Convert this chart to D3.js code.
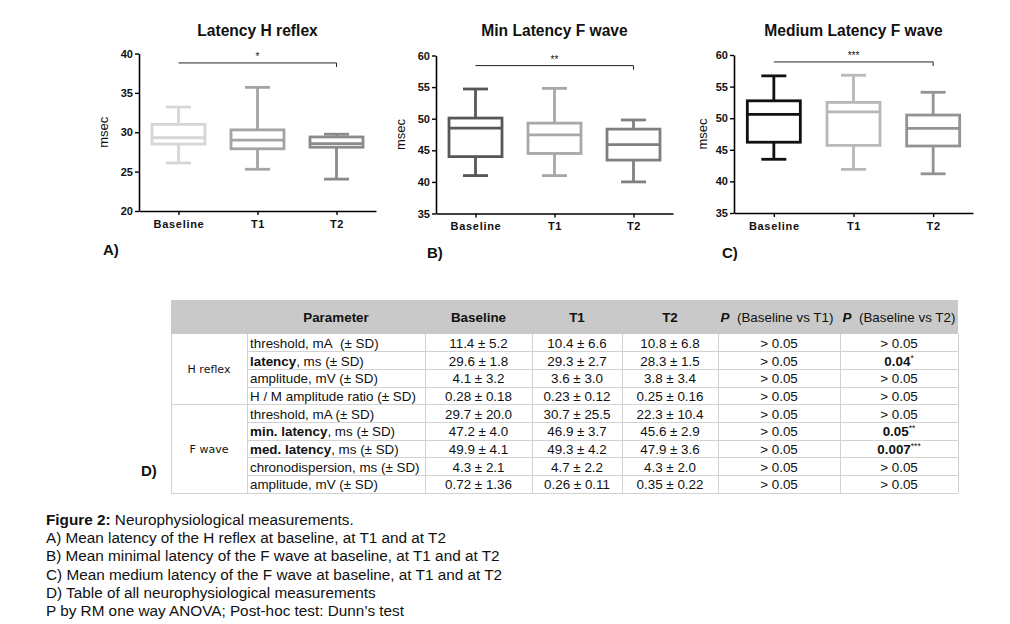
<!DOCTYPE html>
<html>
<head>
<meta charset="utf-8">
<script src="https://cdn.jsdelivr.net/npm/d3@7"></script>
<style>
body { margin: 0; background: #fff; }
text { font-family: "Liberation Sans", Arial, sans-serif; fill: #111; }
</style>
</head>
<body>
<div id="fig"></div>
<script>
// Categories
var groups = ["Baseline", "T1", "T2"];

// Box values per group: [min, q1, median, q3, max]
var hLatency = [[26.1, 28.5, 29.3, 31.0, 33.2], [25.3, 27.9, 29.0, 30.3, 35.7], [24.05, 28.1, 28.55, 29.4, 29.75]];
var fMinLatency = [[41.0, 44.0, 48.5, 50.1, 54.7], [41.0, 44.5, 47.45, 49.3, 54.8], [40.0, 43.45, 45.9, 48.35, 49.8]];
var fMedLatency = [[43.5, 46.2, 50.6, 52.75, 56.7], [41.9, 45.7, 51.0, 52.5, 56.8], [41.2, 45.6, 48.4, 50.5, 54.1]];

// Y tick labels
var hTicks = [20, 25, 30, 35, 40];
var fTicks = [35, 40, 45, 50, 55, 60];

// Table
var tableHeaders = ["Parameter", "Baseline", "T1", "T2", "(Baseline vs T1)", "(Baseline vs T2)"];
var tableGroups = ["H reflex", "F wave"];
var groupRows = [4, 5];
var paramBold = ["", "latency", "", "", "", "min. latency", "med. latency", "", ""];
var paramRest = ["threshold, mA\u00a0 (\u00b1 SD)", ", ms (\u00b1 SD)", "amplitude, mV (\u00b1 SD)", "H / M amplitude ratio (\u00b1 SD)",
  "threshold, mA (\u00b1 SD)", ", ms (\u00b1 SD)", ", ms (\u00b1 SD)", "chronodispersion, ms (\u00b1 SD)", "amplitude, mV (\u00b1 SD)"];
var baselineVals = ["11.4 \u00b1 5.2", "29.6 \u00b1 1.8", "4.1 \u00b1 3.2", "0.28 \u00b1 0.18", "29.7 \u00b1 20.0", "47.2 \u00b1 4.0", "49.9 \u00b1 4.1", "4.3 \u00b1 2.1", "0.72 \u00b1 1.36"];
var t1Vals = ["10.4 \u00b1 6.6", "29.3 \u00b1 2.7", "3.6 \u00b1 3.0", "0.23 \u00b1 0.12", "30.7 \u00b1 25.5", "46.9 \u00b1 3.7", "49.3 \u00b1 4.2", "4.7 \u00b1 2.2", "0.26 \u00b1 0.11"];
var t2Vals = ["10.8 \u00b1 6.8", "28.3 \u00b1 1.5", "3.8 \u00b1 3.4", "0.25 \u00b1 0.16", "22.3 \u00b1 10.4", "45.6 \u00b1 2.9", "47.9 \u00b1 3.6", "4.3 \u00b1 2.0", "0.35 \u00b1 0.22"];
var p1Vals = ["> 0.05", "> 0.05", "> 0.05", "> 0.05", "> 0.05", "> 0.05", "> 0.05", "> 0.05", "> 0.05"];
var p2Vals = ["> 0.05", "0.04*", "> 0.05", "> 0.05", "> 0.05", "0.05**", "0.007***", "> 0.05", "> 0.05"];

// Caption
var captionLines = [
  "Neurophysiological measurements.",
  "A) Mean latency of the H reflex at baseline, at T1 and at T2",
  "B) Mean minimal latency of the F wave at baseline, at T1 and at T2",
  "C) Mean medium latency of the F wave at baseline, at T1 and at T2",
  "D) Table of all neurophysiological measurements",
  "P by RM one way ANOVA; Post-hoc test: Dunn\u2019s test"
];

var svg = d3.select("#fig").append("svg")
    .attr("width", 1010)
    .attr("height", 624);

svg.append("rect").attr("width", 1010).attr("height", 624).attr("fill", "#fff");

// Panel settings
var panels = [
  { title: "Latency H reflex", data: hLatency, ticks: hTicks, domain: [20, 40], x: [139, 376], y: [211, 53.5],
    colors: ["#d6d6d6", "#a4a4a4", "#8a8a8a"], sig: 38.8, stars: "*", label: "A)", lx: 103, ly: 255, ylab: 108 },
  { title: "Min Latency F wave", data: fMinLatency, ticks: fTicks, domain: [35, 60], x: [436, 673], y: [213.5, 55.5],
    colors: ["#575757", "#a8a8a8", "#808080"], sig: 58.4, stars: "**", label: "B)", lx: 427, ly: 258, ylab: 405 },
  { title: "Medium Latency F wave", data: fMedLatency, ticks: fTicks, domain: [35, 60], x: [734, 973], y: [213, 55],
    colors: ["#111111", "#b8b8b8", "#939393"], sig: 58.9, stars: "***", label: "C)", lx: 722, ly: 258, ylab: 707 }
];

panels.forEach(function (p) {
  var g = svg.append("g");
  var x = d3.scalePoint().domain(groups).range(p.x).padding(0.5);
  var y = d3.scaleLinear().domain(p.domain).range(p.y);
  var boxW = 53, capW = 25;

  // Title
  g.append("text")
    .attr("x", x("T1"))
    .attr("y", 36)
    .attr("text-anchor", "middle")
    .style("font-size", "15.6px")
    .style("font-weight", "bold")
    .text(p.title);

  // Y axis
  var yAxis = g.append("g")
    .attr("transform", "translate(" + p.x[0] + ",0)")
    .call(d3.axisLeft(y).tickValues(p.ticks).tickSize(4).tickPadding(2).tickSizeOuter(0));

  // X axis
  var xAxis = g.append("g")
    .attr("transform", "translate(0," + p.y[0] + ")")
    .call(d3.axisBottom(x).tickSize(4).tickPadding(5).tickSizeOuter(0));

  [yAxis, xAxis].forEach(function (a) {
    a.select(".domain").attr("stroke", "#000").attr("stroke-width", 1.6);
    a.selectAll(".tick line").attr("stroke", "#000").attr("stroke-width", 1.4);
    a.selectAll(".tick text")
      .style("font-family", "'Liberation Sans', Arial, sans-serif")
      .style("font-weight", "bold")
      .style("font-size", "11px")
      .attr("fill", "#111");
  });
  xAxis.selectAll(".tick text").style("letter-spacing", "0.7px");

  // Y axis label
  g.append("text")
    .attr("transform", "translate(" + p.ylab + "," + ((p.y[0] + p.y[1]) / 2) + ") rotate(-90)")
    .attr("text-anchor", "middle")
    .style("font-size", "13px")
    .text("msec");

  // Boxes
  p.data.forEach(function (d, i) {
    var cx = x(groups[i]);
    var col = p.colors[i];
    var bg = g.append("g").attr("stroke", col).attr("stroke-width", 2.8).attr("fill", "none");
    bg.append("line").attr("x1", cx).attr("x2", cx).attr("y1", y(d[0])).attr("y2", y(d[1]));
    bg.append("line").attr("x1", cx).attr("x2", cx).attr("y1", y(d[3])).attr("y2", y(d[4]));
    bg.append("line").attr("x1", cx - capW / 2).attr("x2", cx + capW / 2).attr("y1", y(d[0])).attr("y2", y(d[0]));
    bg.append("line").attr("x1", cx - capW / 2).attr("x2", cx + capW / 2).attr("y1", y(d[4])).attr("y2", y(d[4]));
    bg.append("rect")
      .attr("x", cx - boxW / 2)
      .attr("y", y(d[3]))
      .attr("width", boxW)
      .attr("height", y(d[1]) - y(d[3]))
      .attr("fill", "#fff");
    bg.append("line").attr("x1", cx - boxW / 2).attr("x2", cx + boxW / 2).attr("y1", y(d[2])).attr("y2", y(d[2]));
  });

  // Significance bar
  var sy = y(p.sig);
  g.append("path")
    .attr("d", "M" + x("Baseline") + "," + sy + "H" + x("T2") + "v4")
    .attr("fill", "none")
    .attr("stroke", "#222")
    .attr("stroke-width", 1);
  g.append("text")
    .attr("x", x("T1"))
    .attr("y", sy - 3)
    .attr("text-anchor", "middle")
    .style("font-size", "10px")
    .text(p.stars);

  // Panel label
  g.append("text")
    .attr("x", p.lx)
    .attr("y", p.ly)
    .style("font-size", "15px")
    .style("font-weight", "bold")
    .text(p.label);
});

// ---- Table ----
var colEdges = [171, 247, 425, 532, 622, 718, 840, 958];
var headTop = 300, headBottom = 334;
var rows = d3.scaleBand().domain(d3.range(paramRest.length)).range([headBottom, 493.3]);
var lineCol = "#d2d2d2";
var tFont = "13.4px";

var tg = svg.append("g");

tg.append("rect")
  .attr("x", colEdges[0])
  .attr("y", headTop)
  .attr("width", colEdges[7] - colEdges[0])
  .attr("height", headBottom - headTop)
  .attr("fill", "#c9c9c9");

// Header texts
var headCenters = [(colEdges[1] + colEdges[2]) / 2, (colEdges[2] + colEdges[3]) / 2, (colEdges[3] + colEdges[4]) / 2,
  (colEdges[4] + colEdges[5]) / 2, (colEdges[5] + colEdges[6]) / 2 - 2, (colEdges[6] + colEdges[7]) / 2];
tableHeaders.forEach(function (h, i) {
  var t = tg.append("text")
    .attr("x", headCenters[i])
    .attr("y", headBottom - 12)
    .attr("text-anchor", "middle")
    .style("font-size", tFont);
  if (i < 4) {
    t.style("font-weight", "bold").text(h);
  } else {
    t.append("tspan").style("font-weight", "bold").style("font-style", "italic").text("P");
    t.append("tspan").text("\u00a0 " + h);
  }
});

// Grid lines
var gl = tg.append("g").attr("stroke", lineCol).attr("stroke-width", 1).attr("shape-rendering", "crispEdges");
rows.domain().forEach(function (i) {
  if (i === 0) return;
  var x0 = (i === groupRows[0]) ? colEdges[0] : colEdges[1];
  gl.append("line").attr("x1", x0).attr("x2", colEdges[7]).attr("y1", rows(i)).attr("y2", rows(i));
});
gl.append("line").attr("x1", colEdges[0]).attr("x2", colEdges[7]).attr("y1", rows.range()[1]).attr("y2", rows.range()[1]);
colEdges.forEach(function (cx) {
  gl.append("line").attr("x1", cx).attr("x2", cx).attr("y1", headBottom).attr("y2", rows.range()[1]);
});

// Group labels
var start = 0;
tableGroups.forEach(function (name, gi) {
  var n = groupRows[gi];
  var mid = (rows(start) + rows(start + n - 1) + rows.bandwidth()) / 2;
  tg.append("text")
    .attr("x", (colEdges[0] + colEdges[1]) / 2)
    .attr("y", mid + 4)
    .attr("text-anchor", "middle")
    .style("font-family", "'DejaVu Sans', Verdana, sans-serif")
    .style("font-size", "11px")
    .attr("fill", "#333")
    .text(name);
  start += n;
});

// Parameter column
paramRest.forEach(function (rest, i) {
  var t = tg.append("text")
    .attr("x", colEdges[1] + 3)
    .attr("y", rows(i) + rows.bandwidth() / 2 + 5)
    .style("font-size", tFont)
    .attr("fill", "#222");
  if (paramBold[i]) t.append("tspan").style("font-weight", "bold").text(paramBold[i]);
  t.append("tspan").text(rest);
});

// Value columns
[baselineVals, t1Vals, t2Vals, p1Vals].forEach(function (vals, c) {
  vals.forEach(function (v, i) {
    tg.append("text")
      .attr("x", (colEdges[c + 2] + colEdges[c + 3]) / 2)
      .attr("y", rows(i) + rows.bandwidth() / 2 + 5)
      .attr("text-anchor", "middle")
      .style("font-size", tFont)
      .attr("fill", "#222")
      .text(v);
  });
});

p2Vals.forEach(function (v, i) {
  var t = tg.append("text")
    .attr("x", (colEdges[6] + colEdges[7]) / 2)
    .attr("y", rows(i) + rows.bandwidth() / 2 + 5)
    .attr("text-anchor", "middle")
    .style("font-size", tFont)
    .attr("fill", "#222");
  if (v.charAt(0) === ">") {
    t.text(v);
  } else {
    var num = v.replace(/\*+$/, "");
    var st = v.slice(num.length);
    t.append("tspan").style("font-weight", "bold").text(num);
    t.append("tspan").attr("dy", -5).style("font-size", "8.5px").text(st);
  }
});

// D) label
svg.append("text")
  .attr("x", 141)
  .attr("y", 476)
  .style("font-size", "15px")
  .style("font-weight", "bold")
  .text("D)");

// ---- Caption ----
var cap = svg.append("g");
captionLines.forEach(function (line, i) {
  var t = cap.append("text")
    .attr("x", 46)
    .attr("y", 525 + i * 18.2)
    .style("font-size", "15.3px")
    .attr("fill", "#000");
  if (i === 0) {
    t.append("tspan").style("font-weight", "bold").text("Figure 2: ");
  }
  t.append("tspan").text(line);
});
</script>
</body>
</html>
